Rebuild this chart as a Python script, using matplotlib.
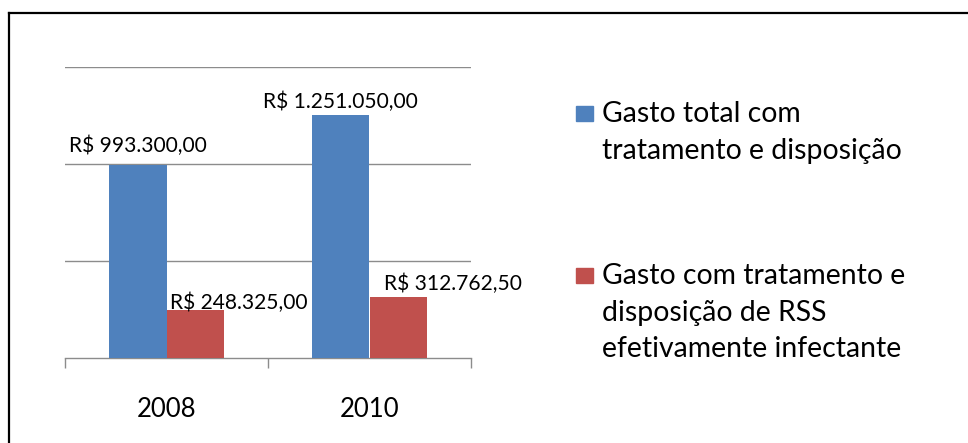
import matplotlib
matplotlib.use("Agg")
import matplotlib.pyplot as plt
from matplotlib.lines import Line2D
from matplotlib.patches import Rectangle

categories = ["2008", "2010"]
total = [993300.00, 1251050.00]
infectante = [248325.00, 312762.50]
series_names = [["Gasto total com", "tratamento e disposição"],
                ["Gasto com tratamento e", "disposição de RSS", "efetivamente infectante"]]
colors = ["#4F81BD", "#C0504D"]

def brl(v):
    s = f"{v:,.2f}".replace(",", "X").replace(".", ",").replace("X", ".")
    return "R$ " + s

plt.rcParams['font.family'] = ['Lato', 'DejaVu Sans']

fig = plt.figure(figsize=(9.68, 4.43), dpi=100)
ax = fig.add_axes([65/968, 1-358/443, (471-65)/968, (358-67)/443])

x = list(range(len(categories)))
w = 0.283
b1 = ax.bar([i - w/2 for i in x], total, width=w, color=colors[0], zorder=3)
b2 = ax.bar([i + w/2 for i in x], infectante, width=w, color=colors[1], zorder=3)

ax.set_xlim(-0.5, 1.5)
ax.set_ylim(0, 1500000)
ax.set_yticks([500000, 1000000, 1500000])
ax.yaxis.grid(True, color="#8c8c8c", linewidth=1.0, zorder=0)
ax.tick_params(axis='y', left=False, labelleft=False)
for s in ["top", "right", "left"]:
    ax.spines[s].set_visible(False)
ax.spines["bottom"].set_color("#8c8c8c")
ax.spines["bottom"].set_linewidth(1.0)

ax.set_xticks([-0.5, 0.5, 1.5], minor=False)
ax.set_xticklabels([])
ax.tick_params(axis='x', which='major', direction='out', length=7.5, color="#8c8c8c", width=1.0)
ax.set_xticks(x, minor=True)
ax.set_xticklabels(categories, minor=True, fontsize=18.5, color="#000000")
ax.tick_params(axis='x', which='minor', length=0, pad=28)

# data labels (offsets in pixels: dx, dy)
offs_total = [(0, 13), (0, 7)]
offs_inf = [(44, 1), (55, 7)]
for rect, v, (dx, dy) in zip(b1, total, offs_total):
    ax.annotate(brl(v), xy=(rect.get_x() + rect.get_width()/2, v), xytext=(dx, dy),
                textcoords='offset pixels', ha='center', va='baseline', fontsize=15.1, color="#000000")
for rect, v, (dx, dy) in zip(b2, infectante, offs_inf):
    ax.annotate(brl(v), xy=(rect.get_x() + rect.get_width()/2, v), xytext=(dx, dy),
                textcoords='offset pixels', ha='center', va='baseline', fontsize=15.1, color="#000000")

# legend drawn manually
leg_baselines = [122, 284]
line_step = 36.5
for lines, col, yb in zip(series_names, colors, leg_baselines):
    fig.patches.append(Rectangle((576/968, 1-(yb-1)/443), 17/968, 15/443,
                                 transform=fig.transFigure, color=col))
    for k, line in enumerate(lines):
        fig.text(602/968, 1-(yb + k*line_step)/443, line, ha='left', va='baseline',
                 fontsize=20.4, color="#000000")

# outer border (left and top visible)
fig.add_artist(Line2D([9/968, 9/968], [0, 1-13/443], transform=fig.transFigure, color="black", linewidth=1.6))
fig.add_artist(Line2D([9/968, 1], [1-13/443, 1-13/443], transform=fig.transFigure, color="black", linewidth=1.6))

fig.savefig("out.png", dpi=100)
